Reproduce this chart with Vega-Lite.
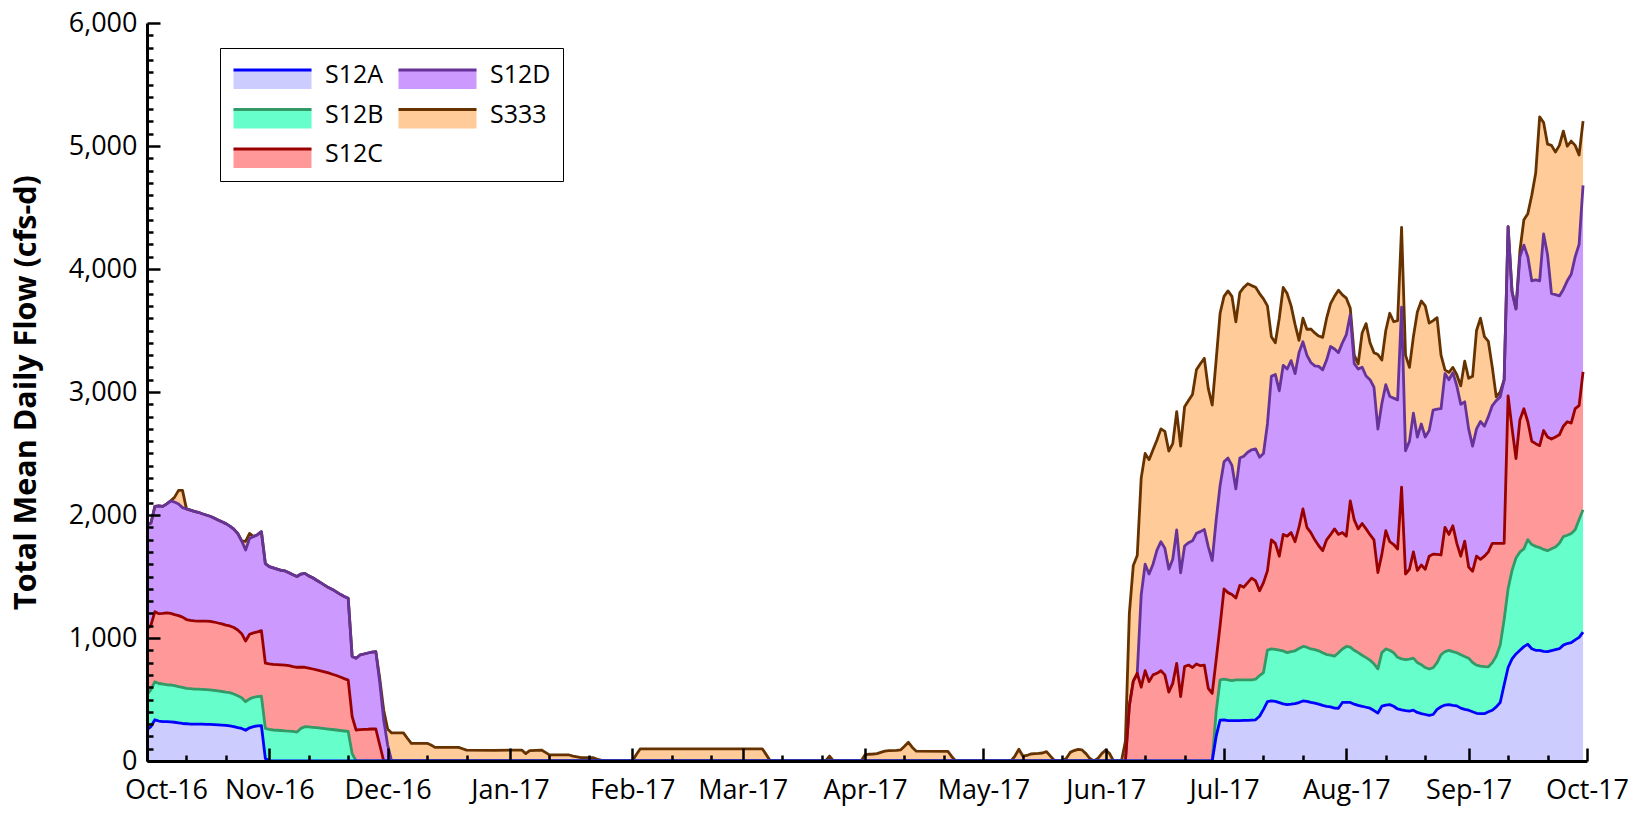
{
"$schema": "https://vega.github.io/schema/vega-lite/v6.json",
"width": 1440, "height": 738,
"autosize": {"type": "none"},
"padding": {"left": 147, "top": 23, "right": 59, "bottom": 53},
"background": "white",
"config": {"view": {"stroke": null}, "font": "Open Sans"},
"data": {"format": {"parse": {"date": "date:'%Y-%m-%d'"}}, "values": [
{"date":"2016-10-01","S12A":255,"S12B":285,"S12C":530,"S12D":849,"S333":0},
{"date":"2016-10-02","S12A":280,"S12B":300,"S12C":525,"S12D":830,"S333":0},
{"date":"2016-10-03","S12A":335,"S12B":310,"S12C":569,"S12D":856,"S333":0},
{"date":"2016-10-04","S12A":325,"S12B":305,"S12C":568,"S12D":877,"S333":0},
{"date":"2016-10-05","S12A":320,"S12B":306,"S12C":574,"S12D":870,"S333":0},
{"date":"2016-10-06","S12A":320,"S12B":300,"S12C":585,"S12D":885,"S333":0},
{"date":"2016-10-07","S12A":318,"S12B":300,"S12C":582,"S12D":915,"S333":0},
{"date":"2016-10-08","S12A":315,"S12B":297,"S12C":578,"S12D":915,"S333":40},
{"date":"2016-10-09","S12A":310,"S12B":295,"S12C":577,"S12D":908,"S333":110},
{"date":"2016-10-10","S12A":305,"S12B":293,"S12C":572,"S12D":890,"S333":140},
{"date":"2016-10-11","S12A":303,"S12B":288,"S12C":559,"S12D":900,"S333":0},
{"date":"2016-10-12","S12A":300,"S12B":288,"S12C":556,"S12D":896,"S333":0},
{"date":"2016-10-13","S12A":300,"S12B":285,"S12C":555,"S12D":890,"S333":0},
{"date":"2016-10-14","S12A":300,"S12B":284,"S12C":554,"S12D":884,"S333":0},
{"date":"2016-10-15","S12A":300,"S12B":282,"S12C":556,"S12D":872,"S333":0},
{"date":"2016-10-16","S12A":298,"S12B":282,"S12C":558,"S12D":862,"S333":0},
{"date":"2016-10-17","S12A":298,"S12B":280,"S12C":557,"S12D":855,"S333":0},
{"date":"2016-10-18","S12A":296,"S12B":279,"S12C":555,"S12D":845,"S333":0},
{"date":"2016-10-19","S12A":294,"S12B":276,"S12C":552,"S12D":838,"S333":0},
{"date":"2016-10-20","S12A":292,"S12B":273,"S12C":550,"S12D":830,"S333":0},
{"date":"2016-10-21","S12A":290,"S12B":270,"S12C":545,"S12D":825,"S333":0},
{"date":"2016-10-22","S12A":285,"S12B":271,"S12C":542,"S12D":812,"S333":0},
{"date":"2016-10-23","S12A":280,"S12B":265,"S12C":540,"S12D":800,"S333":0},
{"date":"2016-10-24","S12A":272,"S12B":258,"S12C":535,"S12D":785,"S333":0},
{"date":"2016-10-25","S12A":265,"S12B":250,"S12C":520,"S12D":755,"S333":0},
{"date":"2016-10-26","S12A":250,"S12B":232,"S12C":493,"S12D":740,"S333":70},
{"date":"2016-10-27","S12A":270,"S12B":235,"S12C":525,"S12D":780,"S333":40},
{"date":"2016-10-28","S12A":280,"S12B":238,"S12C":524,"S12D":783,"S333":0},
{"date":"2016-10-29","S12A":285,"S12B":239,"S12C":526,"S12D":790,"S333":0},
{"date":"2016-10-30","S12A":287,"S12B":241,"S12C":532,"S12D":804,"S333":0},
{"date":"2016-10-31","S12A":20,"S12B":245,"S12C":530,"S12D":810,"S333":0},
{"date":"2016-11-01","S12A":0,"S12B":257,"S12C":532,"S12D":791,"S333":0},
{"date":"2016-11-02","S12A":0,"S12B":252,"S12C":534,"S12D":784,"S333":0},
{"date":"2016-11-03","S12A":0,"S12B":250,"S12C":534,"S12D":776,"S333":0},
{"date":"2016-11-04","S12A":0,"S12B":248,"S12C":534,"S12D":768,"S333":0},
{"date":"2016-11-05","S12A":0,"S12B":245,"S12C":535,"S12D":765,"S333":0},
{"date":"2016-11-06","S12A":0,"S12B":243,"S12C":532,"S12D":755,"S333":0},
{"date":"2016-11-07","S12A":0,"S12B":240,"S12C":528,"S12D":747,"S333":0},
{"date":"2016-11-08","S12A":0,"S12B":235,"S12C":527,"S12D":738,"S333":0},
{"date":"2016-11-09","S12A":0,"S12B":265,"S12C":497,"S12D":758,"S333":0},
{"date":"2016-11-10","S12A":0,"S12B":279,"S12C":483,"S12D":764,"S333":0},
{"date":"2016-11-11","S12A":0,"S12B":277,"S12C":478,"S12D":750,"S333":0},
{"date":"2016-11-12","S12A":0,"S12B":274,"S12C":474,"S12D":742,"S333":0},
{"date":"2016-11-13","S12A":0,"S12B":271,"S12C":469,"S12D":730,"S333":0},
{"date":"2016-11-14","S12A":0,"S12B":268,"S12C":465,"S12D":717,"S333":0},
{"date":"2016-11-15","S12A":0,"S12B":264,"S12C":461,"S12D":705,"S333":0},
{"date":"2016-11-16","S12A":0,"S12B":260,"S12C":456,"S12D":694,"S333":0},
{"date":"2016-11-17","S12A":0,"S12B":256,"S12C":449,"S12D":690,"S333":0},
{"date":"2016-11-18","S12A":0,"S12B":252,"S12C":443,"S12D":680,"S333":0},
{"date":"2016-11-19","S12A":0,"S12B":248,"S12C":435,"S12D":672,"S333":0},
{"date":"2016-11-20","S12A":0,"S12B":244,"S12C":426,"S12D":668,"S333":0},
{"date":"2016-11-21","S12A":0,"S12B":240,"S12C":418,"S12D":665,"S333":0},
{"date":"2016-11-22","S12A":0,"S12B":60,"S12C":300,"S12D":490,"S333":0},
{"date":"2016-11-23","S12A":0,"S12B":0,"S12C":252,"S12D":583,"S333":0},
{"date":"2016-11-24","S12A":0,"S12B":0,"S12C":255,"S12D":607,"S333":0},
{"date":"2016-11-25","S12A":0,"S12B":0,"S12C":257,"S12D":613,"S333":0},
{"date":"2016-11-26","S12A":0,"S12B":0,"S12C":258,"S12D":620,"S333":0},
{"date":"2016-11-27","S12A":0,"S12B":0,"S12C":260,"S12D":625,"S333":0},
{"date":"2016-11-28","S12A":0,"S12B":0,"S12C":260,"S12D":629,"S333":0},
{"date":"2016-11-29","S12A":0,"S12B":0,"S12C":130,"S12D":510,"S333":30},
{"date":"2016-11-30","S12A":0,"S12B":0,"S12C":0,"S12D":333,"S333":80},
{"date":"2016-12-01","S12A":0,"S12B":0,"S12C":0,"S12D":130,"S333":130},
{"date":"2016-12-02","S12A":0,"S12B":0,"S12C":0,"S12D":0,"S333":228},
{"date":"2016-12-05","S12A":0,"S12B":0,"S12C":0,"S12D":0,"S333":228},
{"date":"2016-12-06","S12A":0,"S12B":0,"S12C":0,"S12D":0,"S333":185},
{"date":"2016-12-07","S12A":0,"S12B":0,"S12C":0,"S12D":0,"S333":144},
{"date":"2016-12-11","S12A":0,"S12B":0,"S12C":0,"S12D":0,"S333":144},
{"date":"2016-12-12","S12A":0,"S12B":0,"S12C":0,"S12D":0,"S333":130},
{"date":"2016-12-13","S12A":0,"S12B":0,"S12C":0,"S12D":0,"S333":111},
{"date":"2016-12-19","S12A":0,"S12B":0,"S12C":0,"S12D":0,"S333":111},
{"date":"2016-12-20","S12A":0,"S12B":0,"S12C":0,"S12D":0,"S333":100},
{"date":"2016-12-21","S12A":0,"S12B":0,"S12C":0,"S12D":0,"S333":89},
{"date":"2016-12-28","S12A":0,"S12B":0,"S12C":0,"S12D":0,"S333":87},
{"date":"2017-01-04","S12A":0,"S12B":0,"S12C":0,"S12D":0,"S333":89},
{"date":"2017-01-05","S12A":0,"S12B":0,"S12C":0,"S12D":0,"S333":60},
{"date":"2017-01-06","S12A":0,"S12B":0,"S12C":0,"S12D":0,"S333":85},
{"date":"2017-01-09","S12A":0,"S12B":0,"S12C":0,"S12D":0,"S333":89},
{"date":"2017-01-10","S12A":0,"S12B":0,"S12C":0,"S12D":0,"S333":70},
{"date":"2017-01-11","S12A":0,"S12B":0,"S12C":0,"S12D":0,"S333":50},
{"date":"2017-01-16","S12A":0,"S12B":0,"S12C":0,"S12D":0,"S333":49},
{"date":"2017-01-17","S12A":0,"S12B":0,"S12C":0,"S12D":0,"S333":40},
{"date":"2017-01-19","S12A":0,"S12B":0,"S12C":0,"S12D":0,"S333":27},
{"date":"2017-01-22","S12A":0,"S12B":0,"S12C":0,"S12D":0,"S333":27},
{"date":"2017-01-23","S12A":0,"S12B":0,"S12C":0,"S12D":0,"S333":15},
{"date":"2017-01-25","S12A":0,"S12B":0,"S12C":0,"S12D":0,"S333":0},
{"date":"2017-02-01","S12A":0,"S12B":0,"S12C":0,"S12D":0,"S333":0},
{"date":"2017-02-02","S12A":0,"S12B":0,"S12C":0,"S12D":0,"S333":50},
{"date":"2017-02-03","S12A":0,"S12B":0,"S12C":0,"S12D":0,"S333":98},
{"date":"2017-03-06","S12A":0,"S12B":0,"S12C":0,"S12D":0,"S333":98},
{"date":"2017-03-07","S12A":0,"S12B":0,"S12C":0,"S12D":0,"S333":50},
{"date":"2017-03-08","S12A":0,"S12B":0,"S12C":0,"S12D":0,"S333":0},
{"date":"2017-03-22","S12A":0,"S12B":0,"S12C":0,"S12D":0,"S333":0},
{"date":"2017-03-23","S12A":0,"S12B":0,"S12C":0,"S12D":0,"S333":40},
{"date":"2017-03-24","S12A":0,"S12B":0,"S12C":0,"S12D":0,"S333":0},
{"date":"2017-03-31","S12A":0,"S12B":0,"S12C":0,"S12D":0,"S333":0},
{"date":"2017-04-01","S12A":0,"S12B":0,"S12C":0,"S12D":0,"S333":50},
{"date":"2017-04-02","S12A":0,"S12B":0,"S12C":0,"S12D":0,"S333":55},
{"date":"2017-04-03","S12A":0,"S12B":0,"S12C":0,"S12D":0,"S333":57},
{"date":"2017-04-04","S12A":0,"S12B":0,"S12C":0,"S12D":0,"S333":60},
{"date":"2017-04-05","S12A":0,"S12B":0,"S12C":0,"S12D":0,"S333":70},
{"date":"2017-04-06","S12A":0,"S12B":0,"S12C":0,"S12D":0,"S333":80},
{"date":"2017-04-07","S12A":0,"S12B":0,"S12C":0,"S12D":0,"S333":84},
{"date":"2017-04-09","S12A":0,"S12B":0,"S12C":0,"S12D":0,"S333":86},
{"date":"2017-04-10","S12A":0,"S12B":0,"S12C":0,"S12D":0,"S333":90},
{"date":"2017-04-11","S12A":0,"S12B":0,"S12C":0,"S12D":0,"S333":120},
{"date":"2017-04-12","S12A":0,"S12B":0,"S12C":0,"S12D":0,"S333":152},
{"date":"2017-04-13","S12A":0,"S12B":0,"S12C":0,"S12D":0,"S333":110},
{"date":"2017-04-14","S12A":0,"S12B":0,"S12C":0,"S12D":0,"S333":80},
{"date":"2017-04-22","S12A":0,"S12B":0,"S12C":0,"S12D":0,"S333":79},
{"date":"2017-04-23","S12A":0,"S12B":0,"S12C":0,"S12D":0,"S333":35},
{"date":"2017-04-24","S12A":0,"S12B":0,"S12C":0,"S12D":0,"S333":0},
{"date":"2017-05-08","S12A":0,"S12B":0,"S12C":0,"S12D":0,"S333":0},
{"date":"2017-05-09","S12A":0,"S12B":0,"S12C":0,"S12D":0,"S333":40},
{"date":"2017-05-10","S12A":0,"S12B":0,"S12C":0,"S12D":0,"S333":95},
{"date":"2017-05-11","S12A":0,"S12B":0,"S12C":0,"S12D":0,"S333":40},
{"date":"2017-05-12","S12A":0,"S12B":0,"S12C":0,"S12D":0,"S333":45},
{"date":"2017-05-13","S12A":0,"S12B":0,"S12C":0,"S12D":0,"S333":57},
{"date":"2017-05-14","S12A":0,"S12B":0,"S12C":0,"S12D":0,"S333":60},
{"date":"2017-05-15","S12A":0,"S12B":0,"S12C":0,"S12D":0,"S333":62},
{"date":"2017-05-16","S12A":0,"S12B":0,"S12C":0,"S12D":0,"S333":65},
{"date":"2017-05-17","S12A":0,"S12B":0,"S12C":0,"S12D":0,"S333":76},
{"date":"2017-05-18","S12A":0,"S12B":0,"S12C":0,"S12D":0,"S333":40},
{"date":"2017-05-19","S12A":0,"S12B":0,"S12C":0,"S12D":0,"S333":5},
{"date":"2017-05-20","S12A":0,"S12B":0,"S12C":0,"S12D":0,"S333":0},
{"date":"2017-05-21","S12A":0,"S12B":0,"S12C":0,"S12D":0,"S333":0},
{"date":"2017-05-22","S12A":0,"S12B":0,"S12C":0,"S12D":0,"S333":20},
{"date":"2017-05-23","S12A":0,"S12B":0,"S12C":0,"S12D":0,"S333":70},
{"date":"2017-05-24","S12A":0,"S12B":0,"S12C":0,"S12D":0,"S333":85},
{"date":"2017-05-25","S12A":0,"S12B":0,"S12C":0,"S12D":0,"S333":95},
{"date":"2017-05-26","S12A":0,"S12B":0,"S12C":0,"S12D":0,"S333":90},
{"date":"2017-05-27","S12A":0,"S12B":0,"S12C":0,"S12D":0,"S333":60},
{"date":"2017-05-28","S12A":0,"S12B":0,"S12C":0,"S12D":0,"S333":20},
{"date":"2017-05-29","S12A":0,"S12B":0,"S12C":0,"S12D":0,"S333":0},
{"date":"2017-05-30","S12A":0,"S12B":0,"S12C":0,"S12D":0,"S333":20},
{"date":"2017-05-31","S12A":0,"S12B":0,"S12C":0,"S12D":0,"S333":60},
{"date":"2017-06-01","S12A":0,"S12B":0,"S12C":0,"S12D":0,"S333":90},
{"date":"2017-06-02","S12A":0,"S12B":0,"S12C":0,"S12D":0,"S333":60},
{"date":"2017-06-03","S12A":0,"S12B":0,"S12C":0,"S12D":0,"S333":0},
{"date":"2017-06-05","S12A":0,"S12B":0,"S12C":0,"S12D":0,"S333":0},
{"date":"2017-06-06","S12A":0,"S12B":0,"S12C":0,"S12D":0,"S333":160},
{"date":"2017-06-07","S12A":0,"S12B":0,"S12C":450,"S12D":0,"S333":750},
{"date":"2017-06-08","S12A":0,"S12B":0,"S12C":650,"S12D":0,"S333":940},
{"date":"2017-06-09","S12A":0,"S12B":0,"S12C":713,"S12D":0,"S333":957},
{"date":"2017-06-10","S12A":0,"S12B":0,"S12C":600,"S12D":750,"S333":950},
{"date":"2017-06-11","S12A":0,"S12B":0,"S12C":734,"S12D":866,"S333":900},
{"date":"2017-06-12","S12A":0,"S12B":0,"S12C":645,"S12D":875,"S333":930},
{"date":"2017-06-13","S12A":0,"S12B":0,"S12C":700,"S12D":900,"S333":930},
{"date":"2017-06-14","S12A":0,"S12B":0,"S12C":713,"S12D":1002,"S333":895},
{"date":"2017-06-15","S12A":0,"S12B":0,"S12C":734,"S12D":1049,"S333":917},
{"date":"2017-06-16","S12A":0,"S12B":0,"S12C":700,"S12D":1030,"S333":950},
{"date":"2017-06-17","S12A":0,"S12B":0,"S12C":560,"S12D":1000,"S333":960},
{"date":"2017-06-18","S12A":0,"S12B":0,"S12C":631,"S12D":1009,"S333":940},
{"date":"2017-06-19","S12A":0,"S12B":0,"S12C":794,"S12D":1084,"S333":962},
{"date":"2017-06-20","S12A":0,"S12B":0,"S12C":523,"S12D":1007,"S333":1030},
{"date":"2017-06-21","S12A":0,"S12B":0,"S12C":767,"S12D":981,"S333":1132},
{"date":"2017-06-22","S12A":0,"S12B":0,"S12C":780,"S12D":995,"S333":1155},
{"date":"2017-06-23","S12A":0,"S12B":0,"S12C":760,"S12D":1030,"S333":1190},
{"date":"2017-06-24","S12A":0,"S12B":0,"S12C":789,"S12D":1062,"S333":1329},
{"date":"2017-06-25","S12A":0,"S12B":0,"S12C":775,"S12D":1090,"S333":1365},
{"date":"2017-06-26","S12A":0,"S12B":0,"S12C":780,"S12D":1103,"S333":1391},
{"date":"2017-06-27","S12A":0,"S12B":0,"S12C":591,"S12D":1152,"S333":1287},
{"date":"2017-06-28","S12A":0,"S12B":0,"S12C":550,"S12D":1080,"S333":1264},
{"date":"2017-06-29","S12A":200,"S12B":200,"S12C":421,"S12D":1138,"S333":1301},
{"date":"2017-06-30","S12A":333,"S12B":326,"S12C":441,"S12D":1140,"S333":1400},
{"date":"2017-07-01","S12A":335,"S12B":331,"S12C":733,"S12D":1034,"S333":1345},
{"date":"2017-07-02","S12A":329,"S12B":331,"S12C":709,"S12D":1094,"S333":1359},
{"date":"2017-07-03","S12A":329,"S12B":325,"S12C":700,"S12D":1050,"S333":1374},
{"date":"2017-07-04","S12A":329,"S12B":331,"S12C":665,"S12D":887,"S333":1359},
{"date":"2017-07-05","S12A":329,"S12B":331,"S12C":768,"S12D":1035,"S333":1345},
{"date":"2017-07-06","S12A":330,"S12B":330,"S12C":753,"S12D":1065,"S333":1372},
{"date":"2017-07-07","S12A":331,"S12B":329,"S12C":790,"S12D":1060,"S333":1371},
{"date":"2017-07-08","S12A":333,"S12B":327,"S12C":827,"S12D":1043,"S333":1335},
{"date":"2017-07-09","S12A":335,"S12B":330,"S12C":799,"S12D":1073,"S333":1315},
{"date":"2017-07-10","S12A":364,"S12B":331,"S12C":689,"S12D":1086,"S333":1330},
{"date":"2017-07-11","S12A":420,"S12B":299,"S12C":731,"S12D":1050,"S333":1257},
{"date":"2017-07-12","S12A":482,"S12B":420,"S12C":644,"S12D":1194,"S333":960},
{"date":"2017-07-13","S12A":488,"S12B":423,"S12C":887,"S12D":1330,"S333":322},
{"date":"2017-07-14","S12A":485,"S12B":423,"S12C":861,"S12D":1374,"S333":257},
{"date":"2017-07-15","S12A":475,"S12B":427,"S12C":763,"S12D":1345,"S333":590},
{"date":"2017-07-16","S12A":465,"S12B":430,"S12C":947,"S12D":1375,"S333":633},
{"date":"2017-07-17","S12A":458,"S12B":423,"S12C":947,"S12D":1359,"S333":613},
{"date":"2017-07-18","S12A":462,"S12B":428,"S12C":967,"S12D":1398,"S333":445},
{"date":"2017-07-19","S12A":467,"S12B":429,"S12C":887,"S12D":1366,"S333":401},
{"date":"2017-07-20","S12A":475,"S12B":440,"S12C":986,"S12D":1419,"S333":100},
{"date":"2017-07-21","S12A":488,"S12B":443,"S12C":1118,"S12D":1359,"S333":192},
{"date":"2017-07-22","S12A":485,"S12B":440,"S12C":975,"S12D":1400,"S333":210},
{"date":"2017-07-23","S12A":476,"S12B":435,"S12C":946,"S12D":1383,"S333":272},
{"date":"2017-07-24","S12A":470,"S12B":435,"S12C":893,"S12D":1414,"S333":268},
{"date":"2017-07-25","S12A":462,"S12B":434,"S12C":854,"S12D":1458,"S333":247},
{"date":"2017-07-26","S12A":452,"S12B":428,"S12C":830,"S12D":1470,"S333":264},
{"date":"2017-07-27","S12A":445,"S12B":420,"S12C":933,"S12D":1462,"S333":340},
{"date":"2017-07-28","S12A":440,"S12B":421,"S12C":979,"S12D":1530,"S333":349},
{"date":"2017-07-29","S12A":430,"S12B":422,"S12C":1035,"S12D":1463,"S333":428},
{"date":"2017-07-30","S12A":429,"S12B":451,"S12C":962,"S12D":1478,"S333":508},
{"date":"2017-07-31","S12A":476,"S12B":435,"S12C":946,"S12D":1543,"S333":390},
{"date":"2017-08-01","S12A":476,"S12B":455,"S12C":897,"S12D":1639,"S333":296},
{"date":"2017-08-02","S12A":476,"S12B":449,"S12C":1189,"S12D":1516,"S333":50},
{"date":"2017-08-03","S12A":462,"S12B":438,"S12C":1060,"S12D":1271,"S333":69},
{"date":"2017-08-04","S12A":452,"S12B":429,"S12C":1006,"S12D":1300,"S333":43},
{"date":"2017-08-05","S12A":445,"S12B":415,"S12C":1071,"S12D":1271,"S333":278},
{"date":"2017-08-06","S12A":437,"S12B":403,"S12C":1047,"S12D":1243,"S333":426},
{"date":"2017-08-07","S12A":429,"S12B":391,"S12C":1020,"S12D":1260,"S333":300},
{"date":"2017-08-08","S12A":410,"S12B":380,"S12C":1008,"S12D":1241,"S333":281},
{"date":"2017-08-09","S12A":390,"S12B":359,"S12C":783,"S12D":1167,"S333":606},
{"date":"2017-08-10","S12A":446,"S12B":435,"S12C":799,"S12D":1226,"S333":354},
{"date":"2017-08-11","S12A":455,"S12B":456,"S12C":961,"S12D":1188,"S333":440},
{"date":"2017-08-12","S12A":458,"S12B":442,"S12C":883,"S12D":1183,"S333":674},
{"date":"2017-08-13","S12A":445,"S12B":435,"S12C":880,"S12D":1190,"S333":621},
{"date":"2017-08-14","S12A":423,"S12B":420,"S12C":881,"S12D":1212,"S333":644},
{"date":"2017-08-15","S12A":415,"S12B":415,"S12C":1396,"S12D":1463,"S333":650},
{"date":"2017-08-16","S12A":410,"S12B":415,"S12C":695,"S12D":1002,"S333":778},
{"date":"2017-08-17","S12A":406,"S12B":423,"S12C":730,"S12D":1040,"S333":601},
{"date":"2017-08-18","S12A":413,"S12B":423,"S12C":864,"S12D":1128,"S333":622},
{"date":"2017-08-19","S12A":395,"S12B":405,"S12C":749,"S12D":1085,"S333":1016},
{"date":"2017-08-20","S12A":385,"S12B":398,"S12C":811,"S12D":1146,"S333":1000},
{"date":"2017-08-21","S12A":378,"S12B":382,"S12C":799,"S12D":1075,"S333":1066},
{"date":"2017-08-22","S12A":371,"S12B":377,"S12C":917,"S12D":1022,"S333":873},
{"date":"2017-08-23","S12A":378,"S12B":380,"S12C":924,"S12D":1171,"S333":727},
{"date":"2017-08-24","S12A":420,"S12B":380,"S12C":880,"S12D":1180,"S333":744},
{"date":"2017-08-25","S12A":441,"S12B":423,"S12C":811,"S12D":1189,"S333":436},
{"date":"2017-08-26","S12A":455,"S12B":435,"S12C":1010,"S12D":1250,"S333":30},
{"date":"2017-08-27","S12A":459,"S12B":440,"S12C":943,"S12D":1258,"S333":60},
{"date":"2017-08-28","S12A":452,"S12B":437,"S12C":1023,"S12D":1245,"S333":43},
{"date":"2017-08-29","S12A":448,"S12B":432,"S12C":890,"S12D":1280,"S333":90},
{"date":"2017-08-30","S12A":430,"S12B":434,"S12C":801,"S12D":1235,"S333":150},
{"date":"2017-08-31","S12A":420,"S12B":430,"S12C":938,"S12D":1132,"S333":330},
{"date":"2017-09-01","S12A":413,"S12B":423,"S12C":741,"S12D":1123,"S333":411},
{"date":"2017-09-02","S12A":400,"S12B":401,"S12C":741,"S12D":1018,"S333":568},
{"date":"2017-09-03","S12A":388,"S12B":392,"S12C":885,"S12D":1035,"S333":800},
{"date":"2017-09-04","S12A":385,"S12B":387,"S12C":868,"S12D":1120,"S333":840},
{"date":"2017-09-05","S12A":385,"S12B":383,"S12C":897,"S12D":1057,"S333":728},
{"date":"2017-09-06","S12A":400,"S12B":366,"S12C":934,"S12D":1100,"S333":611},
{"date":"2017-09-07","S12A":413,"S12B":387,"S12C":970,"S12D":1120,"S333":310},
{"date":"2017-09-08","S12A":440,"S12B":414,"S12C":916,"S12D":1160,"S333":30},
{"date":"2017-09-09","S12A":476,"S12B":466,"S12C":828,"S12D":1190,"S333":40},
{"date":"2017-09-10","S12A":620,"S12B":530,"S12C":620,"S12D":1330,"S333":0},
{"date":"2017-09-11","S12A":760,"S12B":640,"S12C":1569,"S12D":1376,"S333":0},
{"date":"2017-09-12","S12A":830,"S12B":720,"S12C":1155,"S12D":1111,"S333":0},
{"date":"2017-09-13","S12A":870,"S12B":780,"S12C":808,"S12D":1217,"S333":0},
{"date":"2017-09-14","S12A":900,"S12B":800,"S12C":1075,"S12D":1325,"S333":50},
{"date":"2017-09-15","S12A":930,"S12B":795,"S12C":1139,"S12D":1330,"S333":206},
{"date":"2017-09-16","S12A":949,"S12B":851,"S12C":958,"S12D":1341,"S333":351},
{"date":"2017-09-17","S12A":913,"S12B":847,"S12C":839,"S12D":1305,"S333":696},
{"date":"2017-09-18","S12A":900,"S12B":845,"S12C":835,"S12D":1331,"S333":869},
{"date":"2017-09-19","S12A":899,"S12B":836,"S12C":829,"S12D":1340,"S333":1333},
{"date":"2017-09-20","S12A":892,"S12B":828,"S12C":967,"S12D":1598,"S333":906},
{"date":"2017-09-21","S12A":889,"S12B":821,"S12C":924,"S12D":1482,"S333":899},
{"date":"2017-09-22","S12A":898,"S12B":827,"S12C":892,"S12D":1182,"S333":1206},
{"date":"2017-09-23","S12A":906,"S12B":834,"S12C":894,"S12D":1158,"S333":1158},
{"date":"2017-09-24","S12A":913,"S12B":857,"S12C":882,"S12D":1129,"S333":1224},
{"date":"2017-09-25","S12A":942,"S12B":882,"S12C":898,"S12D":1112,"S333":1287},
{"date":"2017-09-26","S12A":955,"S12B":880,"S12C":923,"S12D":1146,"S333":1094},
{"date":"2017-09-27","S12A":962,"S12B":888,"S12C":897,"S12D":1210,"S333":1083},
{"date":"2017-09-28","S12A":985,"S12B":895,"S12C":984,"S12D":1235,"S333":906},
{"date":"2017-09-29","S12A":1005,"S12B":959,"S12C":925,"S12D":1311,"S333":727},
{"date":"2017-09-30","S12A":1048,"S12B":994,"S12C":1122,"S12D":1516,"S333":522}
]},
"transform": [
  {"fold": ["S333", "S12D", "S12C", "S12B", "S12A"], "as": ["series", "flow"]},
  {"stack": "flow", "groupby": ["date"], "sort": [{"field": "series", "order": "ascending"}], "as": ["y0", "y1"]}
],
"encoding": {
  "x": {"field": "date", "type": "temporal",
    "scale": {"domain": [{"year": 2016, "month": 10, "date": 1}, {"year": 2017, "month": 10, "date": 1}]},
    "axis": {"title": null, "grid": false, "zindex": 1,
      "values": [
        {"year":2016,"month":10,"date":1},{"year":2016,"month":10,"date":11},{"year":2016,"month":10,"date":21},
        {"year":2016,"month":11,"date":1},{"year":2016,"month":11,"date":11},{"year":2016,"month":11,"date":21},
        {"year":2016,"month":12,"date":1},{"year":2016,"month":12,"date":11},{"year":2016,"month":12,"date":21},
        {"year":2017,"month":1,"date":1},{"year":2017,"month":1,"date":11},{"year":2017,"month":1,"date":21},
        {"year":2017,"month":2,"date":1},{"year":2017,"month":2,"date":11},{"year":2017,"month":2,"date":21},
        {"year":2017,"month":3,"date":1},{"year":2017,"month":3,"date":11},{"year":2017,"month":3,"date":21},
        {"year":2017,"month":4,"date":1},{"year":2017,"month":4,"date":11},{"year":2017,"month":4,"date":21},
        {"year":2017,"month":5,"date":1},{"year":2017,"month":5,"date":11},{"year":2017,"month":5,"date":21},
        {"year":2017,"month":6,"date":1},{"year":2017,"month":6,"date":11},{"year":2017,"month":6,"date":21},
        {"year":2017,"month":7,"date":1},{"year":2017,"month":7,"date":11},{"year":2017,"month":7,"date":21},
        {"year":2017,"month":8,"date":1},{"year":2017,"month":8,"date":11},{"year":2017,"month":8,"date":21},
        {"year":2017,"month":9,"date":1},{"year":2017,"month":9,"date":11},{"year":2017,"month":9,"date":21},
        {"year":2017,"month":10,"date":1}],
      "labelExpr": "date(datum.value) === 1 ? timeFormat(datum.value, '%b-%y') : ''",
      "labelOffset": {"condition": {"test": "year(datum.value) === 2016 && month(datum.value) === 9", "value": 19}, "value": 0},
      "tickSize": {"condition": {"test": "date(datum.value) === 1", "value": -13}, "value": -6},
      "tickWidth": 2.5, "tickColor": "black",
      "domainColor": "black", "domainWidth": 3,
      "labelFont": "Open Sans", "labelFontSize": 27, "labelColor": "black",
      "labelPadding": 29, "labelOverlap": false, "labelFlush": false, "labelBound": false}},
  "y": {"field": "y1", "type": "quantitative",
    "scale": {"domain": [0, 6000], "nice": false, "zero": true},
    "axis": {"title": "Total Mean Daily Flow (cfs-d)", "grid": false, "zindex": 1,
      "values": [0,100,200,300,400,500,600,700,800,900,1000,1100,1200,1300,1400,1500,1600,1700,1800,1900,2000,2100,2200,2300,2400,2500,2600,2700,2800,2900,3000,3100,3200,3300,3400,3500,3600,3700,3800,3900,4000,4100,4200,4300,4400,4500,4600,4700,4800,4900,5000,5100,5200,5300,5400,5500,5600,5700,5800,5900,6000],
      "labelExpr": "datum.value % 1000 === 0 ? format(datum.value, ',') : ''",
      "tickSize": {"condition": {"test": "datum.value % 1000 === 0", "value": -13}, "value": -6},
      "tickWidth": 2.5, "tickColor": "black",
      "domainColor": "black", "domainWidth": 3,
      "labelFont": "Open Sans", "labelFontSize": 27, "labelColor": "black",
      "labelPadding": 23, "labelOverlap": false,
      "titleFont": "Open Sans", "titleFontSize": 30.5, "titleFontWeight": "bold", "titleColor": "black",
      "titleX": -121, "titleY": 369, "titleAngle": -90, "titleAlign": "center", "titleBaseline": "middle"}}
},
"layer": [
  {"mark": {"type": "area", "opacity": 1},
   "encoding": {
     "y2": {"field": "y0"},
     "fill": {"field": "series", "type": "nominal",
       "scale": {"domain": ["S12A", "S12B", "S12C", "S12D", "S333"], "range": ["#CCCCFF", "#66FFCC", "#FF9999", "#CC99FF", "#FFCC99"]},
       "legend": {"orient": "none", "legendX": 73, "legendY": 25, "columns": 2, "title": null,
         "symbolType": "M-1,-0.13H1V0.36H-1Z", "symbolSize": 6084, "symbolStrokeWidth": 3, "symbolDash": [78, 400],
         "clipHeight": 30, "rowPadding": 9.5, "columnPadding": 13, "labelOffset": 12,
         "labelFont": "Open Sans", "labelFontSize": 25, "labelColor": "black",
         "padding": 12, "strokeColor": "black", "fillColor": "white"}}}},
  {"mark": {"type": "line", "strokeWidth": 2.8, "strokeJoin": "round"},
   "encoding": {
     "stroke": {"field": "series", "type": "nominal",
       "scale": {"domain": ["S12A", "S12B", "S12C", "S12D", "S333"], "range": ["#0000FF", "#339966", "#990000", "#663399", "#663300"]},
       "legend": {"orient": "none", "legendX": 73, "legendY": 25, "columns": 2, "title": null,
         "symbolType": "M-1,-0.13H1V0.36H-1Z", "symbolSize": 6084, "symbolStrokeWidth": 3, "symbolDash": [78, 400],
         "clipHeight": 30, "rowPadding": 9.5, "columnPadding": 13, "labelOffset": 12,
         "labelFont": "Open Sans", "labelFontSize": 25, "labelColor": "black",
         "padding": 12, "strokeColor": "black", "fillColor": "white"}}}}
]
}
